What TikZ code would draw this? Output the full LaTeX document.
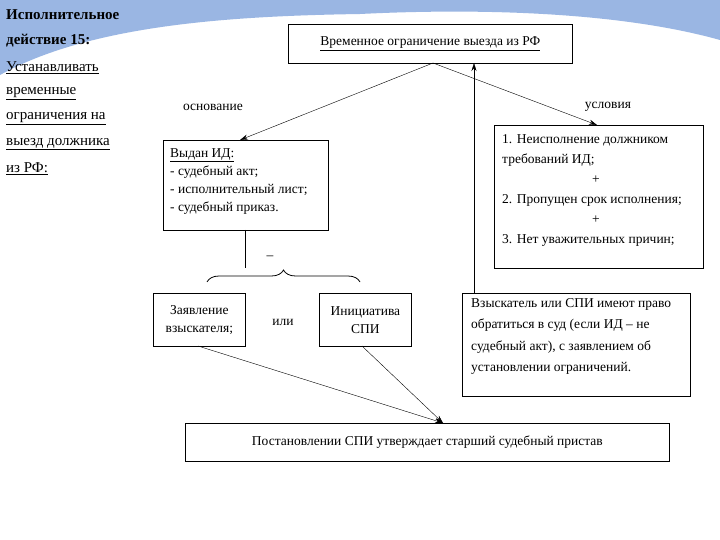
\documentclass[tikz,border=0pt]{standalone}
\usepackage{fontspec}
\setmainfont{Liberation Serif}
\usetikzlibrary{arrows.meta,decorations.pathreplacing}
\begin{document}
\begin{tikzpicture}[x=1pt,y=-1pt,
  box/.style={draw,thick,align=left,inner sep=0pt,anchor=north west},
  txt/.style={font=\fontsize{13.5}{18}\selectfont,align=left},
  lt/.style={font=\fontsize{15}{17}\selectfont,anchor=west,inner sep=0pt},
  arr/.style={-{Stealth[length=8pt,width=5pt]}}]
\useasboundingbox (0,0) rectangle (720,540);
\fill[white] (0,0) rectangle (720,540);
\fill[cyan!50!blue!40] (0,0) -- (720,0) -- (720,40) .. controls (620,12) and (480,8) .. (360,14) .. controls (230,16) and (90,25) .. (0,75) -- cycle;
\node[lt,font=\bfseries\fontsize{15}{17}\selectfont] (h1) at (6,15) {Исполнительное};
\node[lt,font=\bfseries\fontsize{15}{17}\selectfont] (h2) at (6,41) {действие 15:};
\node[lt] (l1) at (6,68) {\underline{Устанавливать}};
\node[lt] (l2) at (6,94) {\underline{временные}};
\node[lt] (l3) at (6,119) {\underline{ограничения на}};
\node[lt] (l4) at (6,144) {\underline{выезд должника}};
\node[lt] (l5) at (6,169) {\underline{из РФ:}};

\node[box,minimum width=284,minimum height=39,align=center,fill=white] (top) at (288,24) {};
\node[txt] at (top.center) {\underline{Временное ограничение выезда из РФ}};

\node[box,minimum width=165,minimum height=90] (base) at (163,140) {};
\node[txt,anchor=north west,inner sep=0pt] at (170,148) {\underline{Выдан ИД:}\\- судебный акт;\\- исполнительный лист;\\- судебный приказ.};

\node[box,minimum width=209,minimum height=143] (cond) at (494,125) {};
\node[txt,anchor=north west,inner sep=0pt,font=\fontsize{13.5}{20}\selectfont] at (502,134) {1. Неисполнение должником\\требований ИД;\\\hspace*{90pt}+\\2. Пропущен срок исполнения;\\\hspace*{90pt}+\\3. Нет уважительных причин;};

\node[box,minimum width=92,minimum height=53] (zay) at (153,293) {};
\node[txt,align=center] at (zay.center) {Заявление\\взыскателя;};
\node[box,minimum width=92,minimum height=53] (ini) at (319,293) {};
\node[txt,align=center] at (ini.center) {Инициатива\\СПИ};
\node[txt] (ili) at (283,322) {или};

\node[box,minimum width=228,minimum height=103] (vz) at (462,293) {};
\node[txt,anchor=north west,inner sep=0pt,font=\fontsize{13.5}{21.5}\selectfont] at (471,298) {Взыскатель или СПИ имеют право\\обратиться в суд (если ИД – не\\судебный акт), с заявлением об\\установлении ограничений.};

\node[box,minimum width=484,minimum height=38] (bot) at (185,423) {};
\node[txt] at (bot.center) {Постановлении СПИ утверждает старший судебный пристав};

\coordinate (apex) at (433,63);
\draw[arr] (apex) -- (240,140);
\draw[arr] (apex) -- (597,125);
\node[txt] (osn) at (213,107) {основание};
\node[txt] (usl) at (608,107) {условия};
\draw[arr] (474,293) -- (474,63);

\draw[thick] (245,230) -- (245,268);
\draw[thick,decorate,decoration={brace,amplitude=12pt}] (207,282) -- (360,282);
\node[txt] (minus) at (270,258) {–};

\coordinate (tip) at (443,423);
\draw[arr] (198,346) -- (tip);
\draw[arr] (362,346) -- (tip);
\end{tikzpicture}
\end{document}
